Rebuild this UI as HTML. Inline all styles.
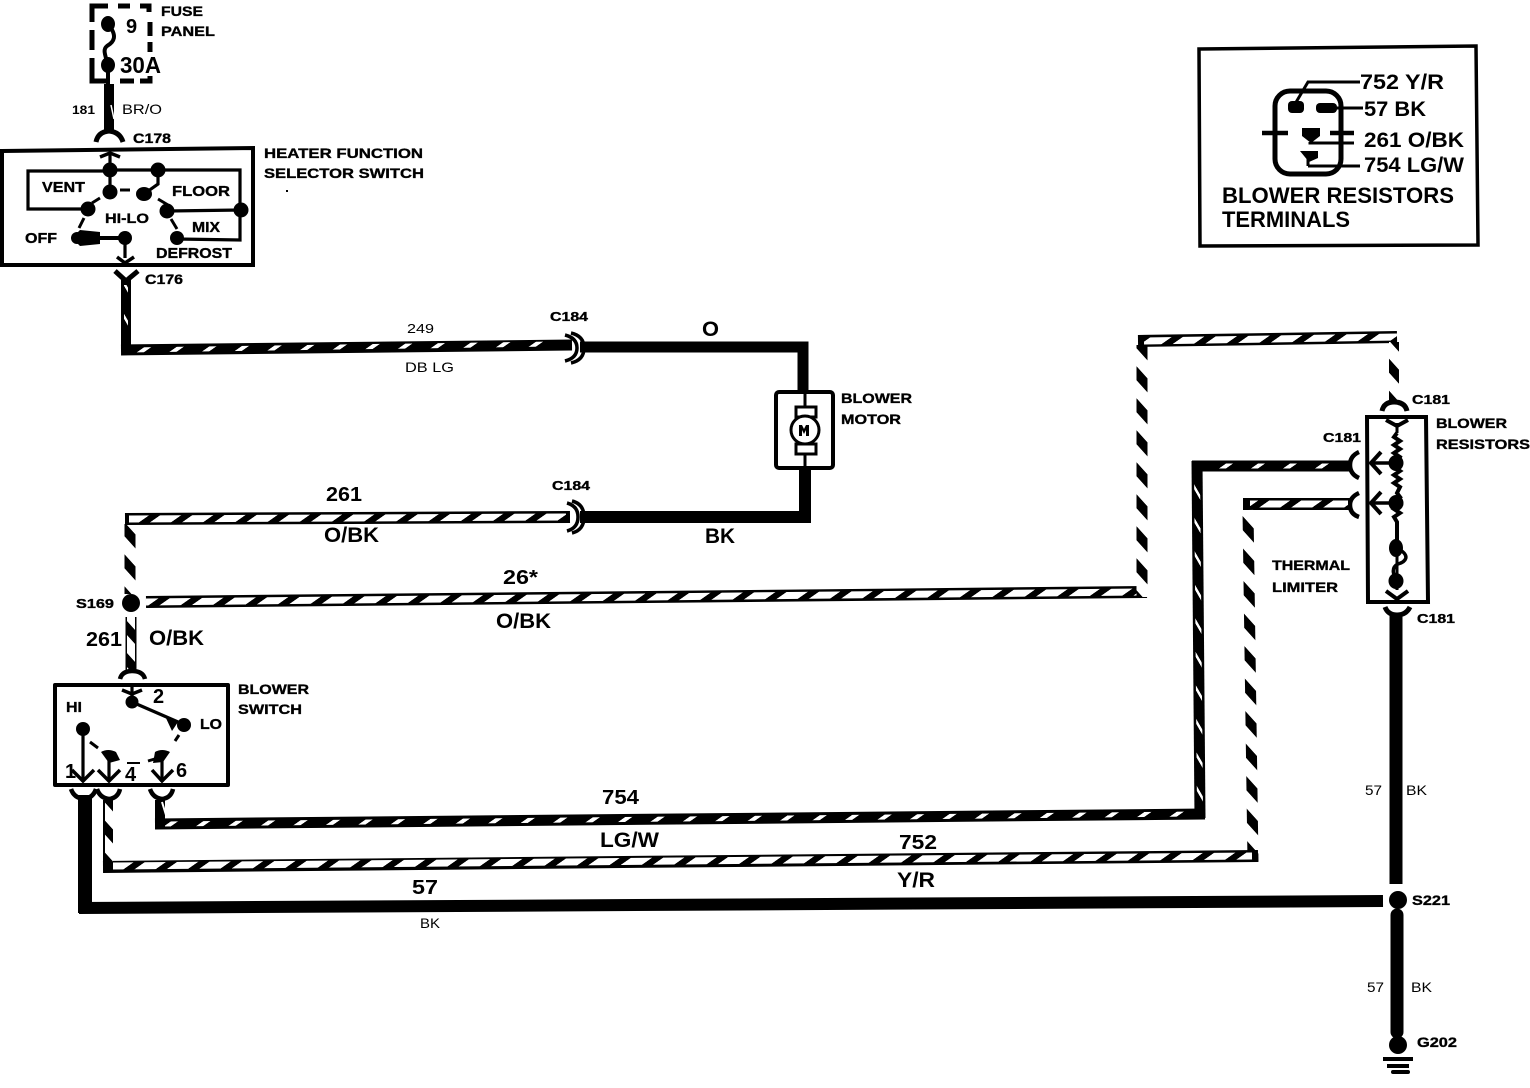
<!DOCTYPE html>
<html><head><meta charset="utf-8"><style>
html,body{margin:0;padding:0;background:#fff}
svg{display:block}
text{font-family:"Liberation Sans",sans-serif;font-weight:bold;fill:#000}
.n{font-weight:normal}
.s{stroke:#000;stroke-width:.35}
</style></head><body>
<svg width="1530" height="1088" viewBox="0 0 1530 1088" xmlns="http://www.w3.org/2000/svg">
<defs>
<pattern id="hb" width="32" height="32" patternUnits="userSpaceOnUse" patternTransform="skewX(-55)"><rect width="32" height="32" fill="#000"/><rect x="0" width="21" height="32" fill="#fff"/></pattern>
<pattern id="ha" width="32" height="32" patternUnits="userSpaceOnUse" patternTransform="skewX(-55)"><rect width="32" height="32" fill="#000"/><rect x="0" width="7" height="32" fill="#fff"/></pattern>
<pattern id="vb" width="32" height="32" patternUnits="userSpaceOnUse" patternTransform="skewY(48)"><rect width="32" height="32" fill="#fff"/><rect y="0" width="32" height="14" fill="#000"/></pattern>
<pattern id="va" width="33" height="33" patternUnits="userSpaceOnUse" patternTransform="skewY(60)"><rect width="33" height="33" fill="#000"/><rect y="0" width="33" height="5" fill="#fff"/></pattern>
</defs>
<rect width="1530" height="1088" fill="#fff"/>
<g fill="none" stroke="#000" stroke-linecap="butt">
<!-- fuse panel -->
<path d="M108 6H92V22M92 30V50M92 58V72M92 70V81H106M120 81H134M140 81H150V76M118 6H130M140 6H149V12M150 22V36M150 42V52" stroke-width="5"/>
<path d="M108 24C118 36 114 42 107 46C102 50 106 56 108 66M108 66V85" stroke-width="4"/>
<path d="M109 84V130" stroke-width="10"/>
<path d="M111 105L114 119" stroke="#fff" stroke-width="1.5"/>
<path d="M96 142Q98 132 109 131Q120 132 123 142" stroke-width="5"/>
<!-- selector switch box -->
<path d="M2 151L253 148V265L2 265Z" stroke-width="4"/>
<path d="M110 152V191M110 170L240 170V240L177 239M110 171H28V209H88M168 211L241 210M158 170V184L144 194M125 237V258" stroke-width="3.2"/>
<path d="M100 157L110 153L120 157M117 257L125 263L134 257" stroke-width="3.5"/>
<path d="M100 238H125" stroke-width="4"/>
<path d="M120 190H130M158 199L168 205M100 198L92 203M84 218L79 228M171 219L177 229" stroke-width="3"/>
<path d="M115 271L126 281L138 271" stroke-width="5"/>
<!-- 249 -->
<path d="M126 280V350" stroke-width="10"/>
<path d="M126 285V345" stroke="url(#va)" stroke-width="4"/>
<path d="M121 350L572 345" stroke-width="11"/>
<path d="M126 350L556 344" stroke="url(#ha)" stroke-width="5"/>
<!-- C184 top -->
<path d="M565 335Q577 338 577 348Q577 358 565 361M571 333Q584 336 584 348Q584 360 571 363" stroke-width="3.5"/>
<path d="M580 347H803V391" stroke-width="11" stroke-linejoin="miter"/>
<!-- motor -->
<rect x="776" y="392" width="57" height="76" rx="3" stroke-width="4"/>
<path d="M805 392V407M805 453V470" stroke-width="3"/>
<rect x="796" y="407" width="20" height="10" stroke-width="3" fill="#fff"/>
<rect x="796" y="444" width="20" height="10" stroke-width="3" fill="#fff"/>
<circle cx="805" cy="430" r="14" stroke-width="3" fill="#fff"/>
<path d="M805 470V517H580" stroke-width="12"/>
<!-- C184 lower -->
<path d="M567 503Q578 506 578 517Q578 528 567 531M572 501Q584 504 584 517Q584 530 572 533" stroke-width="3.5"/>
<!-- 261 -->
<path d="M130 594V524" stroke="url(#vb)" stroke-width="11"/>
<path d="M125 519L570 517" stroke-width="12"/>
<path d="M129 519L566 517" stroke="url(#hb)" stroke-width="7"/>
<!-- 26* -->
<path d="M146 602L1147 592" stroke-width="12"/>
<path d="M146 602L1140 592" stroke="url(#hb)" stroke-width="7"/>
<path d="M1142 597V345" stroke="url(#vb)" stroke-width="11"/>
<path d="M1138 341L1397 337" stroke-width="12"/>
<path d="M1144 341L1397 337" stroke="url(#hb)" stroke-width="7"/>
<path d="M1394 342V402" stroke="url(#vb)" stroke-width="10"/>
<path d="M1382 411Q1384 402 1394 402Q1405 402 1407 411" stroke-width="5"/>
<!-- resistors box -->
<path d="M1367 417H1426L1428 602H1368Z" stroke-width="4"/>
<path d="M1397 423V433M1397 548V590" stroke-width="3"/>
<path d="M1386 420L1397 426L1408 420M1386 591L1397 599L1408 591" stroke-width="4"/>
<path d="M1397 433l-3 4l6 4l-6 4l6 4l-6 4l6 4l-3 6l-3 4l6 4l-6 4l6 4l-6 4l6 4l-3 6l3 4l-6 4l6 4l-6 4l6 4l-6 4l3 5V548" stroke-width="4"/>
<path d="M1397 548C1412 556 1405 562 1398 564C1390 568 1394 576 1397 581" stroke-width="3.5"/>
<path d="M1372 463H1396M1372 503H1396" stroke-width="3.5"/>
<path d="M1381 452L1371 463L1381 474M1381 492L1371 503L1381 514" stroke-width="4"/>
<path d="M1359 452Q1350 456 1350 465Q1350 474 1359 478M1359 493Q1350 497 1350 505Q1350 514 1359 517" stroke-width="4.5"/>
<!-- lower resistor wire -->
<path d="M1385 607Q1388 615 1397 615Q1406 615 1410 607" stroke-width="5"/>
<path d="M1396 614V884" stroke-width="13"/>
<path d="M1397 915V1032" stroke-width="13" stroke-linecap="round"/>
<path d="M1383 1059H1413M1387 1066H1409" stroke-width="4"/>
<path d="M1393 1072H1408" stroke-width="4" stroke-linecap="round"/>
<!-- 754 -->
<path d="M1351 466H1192" stroke-width="11"/>
<path d="M1347 466H1200" stroke="url(#ha)" stroke-width="5"/>
<path d="M1197 461L1200 818" stroke-width="11"/>
<path d="M1197 470L1200 810" stroke="url(#va)" stroke-width="6"/>
<path d="M1205 814L155 824" stroke-width="11"/>
<path d="M1196 814L162 824" stroke="url(#ha)" stroke-width="5"/>
<path d="M160 800V829" stroke-width="10"/>
<path d="M162 802L166 815" stroke="#fff" stroke-width="2"/>
<!-- 752 -->
<path d="M1351 504H1243" stroke-width="12"/>
<path d="M1348 504H1250" stroke="url(#hb)" stroke-width="7"/>
<path d="M1248 510L1253 862" stroke="url(#vb)" stroke-width="11"/>
<path d="M1258 856L103 867" stroke-width="12"/>
<path d="M1252 856L110 866" stroke="url(#hb)" stroke-width="7"/>
<path d="M108 800V870" stroke-width="10"/>
<path d="M109 800V862" stroke="url(#vb)" stroke-width="8"/>
<!-- 57 -->
<path d="M85 795V913" stroke-width="14"/>
<path d="M79 908L1383 901" stroke-width="12"/>
<!-- 261 lower -->
<path d="M131 617V672" stroke-width="11"/>
<path d="M131 617V672" stroke="url(#vb)" stroke-width="8"/>
<path d="M120 679Q122 671 132 671Q143 671 145 679" stroke-width="4.5"/>
<!-- blower switch -->
<path d="M55 685H228V785H55Z" stroke-width="4" stroke-linejoin="round"/>
<path d="M132 687V702M132 702L185 725M83 729V782M109 757V782M162 757V782" stroke-width="3.2"/>
<path d="M122 690L132 694L142 690M72 770L83 781L94 770M98 770L109 781L120 770M152 770L162 781L173 770" stroke-width="3.5"/>
<path d="M90 742L98 748M175 741L179 735M148 761L158 758" stroke-width="3"/>
<path d="M127 763H140" stroke-width="2"/>
<path d="M71 789Q74 798 84 799Q93 798 96 789M97 789Q100 798 109 799Q118 798 120 789M150 789Q153 798 162 799Q171 798 173 789" stroke-width="4.5"/>
<!-- terminals box -->
<path d="M1199 49L1476 46L1478 245L1200 246Z" stroke-width="3.5"/>
<rect x="1275" y="91" width="66" height="83" rx="15" stroke-width="5"/>
<path d="M1262 133H1288M1330 133H1354" stroke-width="4.5"/>
<path d="M1360 82H1308L1295 104M1330 108H1363M1310 142V143H1354M1308 166H1360M1308 156V166" stroke-width="3"/>
</g>
<g fill="#000" stroke="none">
<ellipse cx="108" cy="24" rx="7" ry="8"/><ellipse cx="108" cy="65" rx="7" ry="8"/>
<circle cx="110" cy="170" r="7.5"/><circle cx="158" cy="170" r="7.5"/><circle cx="110" cy="192" r="7.5"/><ellipse cx="144" cy="194" rx="8" ry="7"/><circle cx="88" cy="209" r="7.5"/><circle cx="167" cy="211" r="7.5"/><circle cx="241" cy="210" r="7.5"/><circle cx="177" cy="238" r="7"/><circle cx="125" cy="238" r="7"/><circle cx="77" cy="238" r="6"/><path d="M72 238L80 230L100 232V244L80 246Z"/>
<ellipse cx="1396" cy="463" rx="7.5" ry="8"/><ellipse cx="1396" cy="503" rx="7.5" ry="8"/><ellipse cx="1396" cy="548" rx="7" ry="9"/><ellipse cx="1396" cy="581" rx="7.5" ry="8"/>
<circle cx="131" cy="603" r="9"/><circle cx="1398" cy="900" r="9"/><circle cx="1398" cy="1045" r="9"/>
<circle cx="132" cy="702" r="6.5"/><circle cx="184" cy="725" r="7"/><path d="M165 716L178 722L172 731Z"/><circle cx="83" cy="729" r="7"/><path d="M101 752Q108 748 116 752L120 760L109 763Z"/><path d="M155 752Q162 748 170 752L163 762L153 763Z"/>
<rect x="1288" y="101" width="16" height="12" rx="4"/><rect x="1316" y="103" width="21" height="10" rx="4"/><path d="M1302 128H1320V136L1311 143L1302 136Z"/><path d="M1300 151H1318V158L1309 162Z"/>
<path d="M802 425h3l2 4l2-4h3v11h-3v-6l-2 4l-2-4v6h-3z" transform="translate(-3 0)"/>
</g>
<rect x="286" y="190" width="2" height="2" fill="#000"/>
<!-- labels -->
<text x="126" y="33" font-size="20">9</text>
<text x="120" y="73" font-size="23" textLength="41" lengthAdjust="spacingAndGlyphs">30A</text>
<text x="161" y="16" font-size="14" class="s" textLength="42" lengthAdjust="spacingAndGlyphs">FUSE</text>
<text x="161" y="36" font-size="14" class="s" textLength="54" lengthAdjust="spacingAndGlyphs">PANEL</text>
<text x="72" y="114" font-size="12" textLength="23" lengthAdjust="spacingAndGlyphs">181</text>
<text x="122" y="114" font-size="14" class="n" textLength="40" lengthAdjust="spacingAndGlyphs">BR/O</text>
<text x="133" y="143" font-size="14" class="s" textLength="38" lengthAdjust="spacingAndGlyphs">C178</text>
<text x="264" y="158" font-size="14" class="s" textLength="159" lengthAdjust="spacingAndGlyphs">HEATER FUNCTION</text>
<text x="264" y="178" font-size="14" class="s" textLength="160" lengthAdjust="spacingAndGlyphs">SELECTOR SWITCH</text>
<text x="42" y="192" font-size="15" class="s" textLength="43" lengthAdjust="spacingAndGlyphs">VENT</text>
<text x="172" y="196" font-size="15" class="s" textLength="58" lengthAdjust="spacingAndGlyphs">FLOOR</text>
<text x="105" y="223" font-size="14" class="s" textLength="44" lengthAdjust="spacingAndGlyphs">HI-LO</text>
<text x="192" y="232" font-size="15" class="s" textLength="28" lengthAdjust="spacingAndGlyphs">MIX</text>
<text x="25" y="243" font-size="15" class="s" textLength="32" lengthAdjust="spacingAndGlyphs">OFF</text>
<text x="156" y="258" font-size="15" class="s" textLength="76" lengthAdjust="spacingAndGlyphs">DEFROST</text>
<text x="145" y="284" font-size="14" class="s" textLength="38" lengthAdjust="spacingAndGlyphs">C176</text>
<text x="407" y="333" font-size="13" class="n" textLength="27" lengthAdjust="spacingAndGlyphs">249</text>
<text x="405" y="372" font-size="14" class="n" textLength="49" lengthAdjust="spacingAndGlyphs">DB LG</text>
<text x="550" y="321" font-size="13" class="s" textLength="38" lengthAdjust="spacingAndGlyphs">C184</text>
<text x="702" y="336" font-size="21" textLength="17" lengthAdjust="spacingAndGlyphs">O</text>
<text x="841" y="403" font-size="14" class="s" textLength="71" lengthAdjust="spacingAndGlyphs">BLOWER</text>
<text x="841" y="424" font-size="14" class="s" textLength="60" lengthAdjust="spacingAndGlyphs">MOTOR</text>
<text x="326" y="501" font-size="20" textLength="36" lengthAdjust="spacingAndGlyphs">261</text>
<text x="552" y="490" font-size="13" class="s" textLength="38" lengthAdjust="spacingAndGlyphs">C184</text>
<text x="324" y="542" font-size="21" textLength="55" lengthAdjust="spacingAndGlyphs">O/BK</text>
<text x="705" y="543" font-size="21" textLength="30" lengthAdjust="spacingAndGlyphs">BK</text>
<text x="503" y="584" font-size="20" textLength="35" lengthAdjust="spacingAndGlyphs">26*</text>
<text x="496" y="628" font-size="21" textLength="55" lengthAdjust="spacingAndGlyphs">O/BK</text>
<text x="76" y="608" font-size="13" class="s" textLength="38" lengthAdjust="spacingAndGlyphs">S169</text>
<text x="86" y="646" font-size="20" textLength="36" lengthAdjust="spacingAndGlyphs">261</text>
<text x="149" y="645" font-size="21" textLength="55" lengthAdjust="spacingAndGlyphs">O/BK</text>
<text x="238" y="694" font-size="14" class="s" textLength="71" lengthAdjust="spacingAndGlyphs">BLOWER</text>
<text x="238" y="714" font-size="14" class="s" textLength="64" lengthAdjust="spacingAndGlyphs">SWITCH</text>
<text x="153" y="703" font-size="20">2</text>
<text x="66" y="712" font-size="15" class="s" textLength="16" lengthAdjust="spacingAndGlyphs">HI</text>
<text x="200" y="729" font-size="15" class="s" textLength="22" lengthAdjust="spacingAndGlyphs">LO</text>
<text x="65" y="778" font-size="20">1</text>
<text x="125" y="781" font-size="20">4</text>
<text x="176" y="777" font-size="20">6</text>
<text x="602" y="804" font-size="20" textLength="37" lengthAdjust="spacingAndGlyphs">754</text>
<text x="600" y="847" font-size="21" textLength="59" lengthAdjust="spacingAndGlyphs">LG/W</text>
<text x="899" y="849" font-size="20" textLength="38" lengthAdjust="spacingAndGlyphs">752</text>
<text x="897" y="887" font-size="21" textLength="38" lengthAdjust="spacingAndGlyphs">Y/R</text>
<text x="412" y="894" font-size="20" textLength="26" lengthAdjust="spacingAndGlyphs">57</text>
<text x="420" y="928" font-size="14" class="n" textLength="20" lengthAdjust="spacingAndGlyphs">BK</text>
<text x="1365" y="795" font-size="14" class="n" textLength="17" lengthAdjust="spacingAndGlyphs">57</text>
<text x="1406" y="795" font-size="14" class="n" textLength="21" lengthAdjust="spacingAndGlyphs">BK</text>
<text x="1367" y="992" font-size="14" class="n" textLength="17" lengthAdjust="spacingAndGlyphs">57</text>
<text x="1411" y="992" font-size="14" class="n" textLength="21" lengthAdjust="spacingAndGlyphs">BK</text>
<text x="1412" y="905" font-size="14" class="s" textLength="38" lengthAdjust="spacingAndGlyphs">S221</text>
<text x="1417" y="1047" font-size="14" class="s" textLength="40" lengthAdjust="spacingAndGlyphs">G202</text>
<text x="1412" y="404" font-size="13" class="s" textLength="38" lengthAdjust="spacingAndGlyphs">C181</text>
<text x="1436" y="428" font-size="14" class="s" textLength="71" lengthAdjust="spacingAndGlyphs">BLOWER</text>
<text x="1436" y="449" font-size="14" class="s" textLength="94" lengthAdjust="spacingAndGlyphs">RESISTORS</text>
<text x="1323" y="442" font-size="13" class="s" textLength="38" lengthAdjust="spacingAndGlyphs">C181</text>
<text x="1272" y="570" font-size="14" class="s" textLength="78" lengthAdjust="spacingAndGlyphs">THERMAL</text>
<text x="1272" y="592" font-size="14" class="s" textLength="66" lengthAdjust="spacingAndGlyphs">LIMITER</text>
<text x="1417" y="623" font-size="13" class="s" textLength="38" lengthAdjust="spacingAndGlyphs">C181</text>
<text x="1360" y="89" font-size="21" textLength="84" lengthAdjust="spacingAndGlyphs">752 Y/R</text>
<text x="1364" y="116" font-size="21" textLength="62" lengthAdjust="spacingAndGlyphs">57 BK</text>
<text x="1364" y="147" font-size="21" textLength="100" lengthAdjust="spacingAndGlyphs">261 O/BK</text>
<text x="1364" y="172" font-size="21" textLength="100" lengthAdjust="spacingAndGlyphs">754 LG/W</text>
<text x="1222" y="203" font-size="22" textLength="232" lengthAdjust="spacingAndGlyphs">BLOWER RESISTORS</text>
<text x="1222" y="227" font-size="22" textLength="128" lengthAdjust="spacingAndGlyphs">TERMINALS</text>
</svg>
</body></html>
